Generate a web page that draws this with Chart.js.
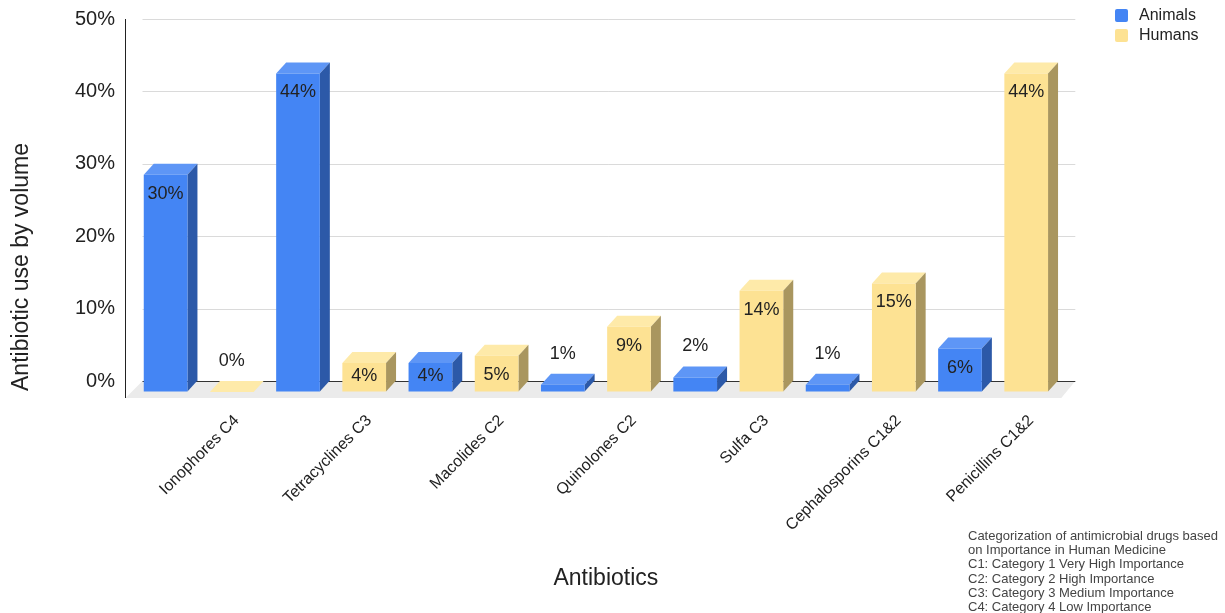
<!DOCTYPE html>
<html>
<head>
<meta charset="utf-8">
<script src="https://cdn.jsdelivr.net/npm/chart.js@4.4.1/dist/chart.umd.min.js"></script>
<style>
  body { margin: 0; background: #fff; }
  #wrap { position: relative; width: 1225px; height: 613px; }
  #note {
    position: absolute; left: 968px; top: 529px;
    font: 13px "Liberation Sans", Arial, sans-serif; line-height: 14.2px; color: #444;
    white-space: nowrap;
  }
</style>
</head>
<body>
<div id="wrap">
  <canvas id="bookChart"></canvas>
  <div id="note">
    Categorization of antimicrobial drugs based<br>
    on Importance in Human Medicine<br>
    C1: Category 1 Very High Importance<br>
    C2: Category 2 High Importance<br>
    C3: Category 3 Medium Importance<br>
    C4: Category 4 Low Importance
  </div>
</div>
<script>
const categories = ['Ionophores C4', 'Tetracyclines C3', 'Macolides C2', 'Quinolones C2', 'Sulfa C3', 'Cephalosporins C1&2', 'Penicillins C1&2'];
const animals = [30, 44, 4, 1, 2, 1, 6];
const humans = [0, 4, 5, 9, 14, 15, 44];
const yTicks = [0, 10, 20, 30, 40, 50];

const FONT = '"Liberation Sans", Arial, sans-serif';
const DX = 10, DY = 11; // 3D depth

// front, top, side colours per series
const faces = [
  { front: '#4485f4', top: '#5e96f6', side: '#2c59a8' },
  { front: '#fde293', top: '#feeaa9', side: '#a9965f' }
];

const bars3d = {
  id: 'bars3d',
  beforeDatasetsDraw(chart) {
    const ctx = chart.ctx;
    const area = chart.chartArea;
    const y = chart.scales.y;
    const right = area.right + 6;
    ctx.save();
    // floor
    ctx.fillStyle = '#ebebeb';
    ctx.beginPath();
    ctx.moveTo(area.left - 17, area.bottom + 17);
    ctx.lineTo(area.left, area.bottom);
    ctx.lineTo(right, area.bottom);
    ctx.lineTo(right - 14, area.bottom + 17);
    ctx.closePath();
    ctx.fill();
    // grid lines
    yTicks.forEach(t => {
      const py = Math.round(y.getPixelForValue(t)) + 0.5;
      ctx.strokeStyle = t === 0 ? '#333' : '#dadada';
      ctx.lineWidth = 1;
      ctx.beginPath();
      ctx.moveTo(area.left, py);
      ctx.lineTo(right, py);
      ctx.stroke();
    });
    // axis line
    ctx.strokeStyle = '#222';
    ctx.beginPath();
    ctx.moveTo(125.5, area.top);
    ctx.lineTo(125.5, area.bottom + 17);
    ctx.stroke();
    // y axis title
    ctx.save();
    ctx.translate(22, 267);
    ctx.rotate(-Math.PI / 2);
    ctx.font = '23px ' + FONT;
    ctx.fillStyle = '#222';
    ctx.textAlign = 'center';
    ctx.textBaseline = 'middle';
    ctx.fillText('Antibiotic use by volume', 0, 0);
    ctx.restore();
    // top and side faces
    chart.data.datasets.forEach((ds, di) => {
      chart.getDatasetMeta(di).data.forEach(bar => {
        const p = bar.getProps(['x', 'y', 'base', 'width'], true);
        const l = p.x - p.width / 2, r = p.x + p.width / 2;
        ctx.fillStyle = faces[di].top;
        ctx.beginPath();
        ctx.moveTo(l - DX, p.y + DY);
        ctx.lineTo(l, p.y);
        ctx.lineTo(r, p.y);
        ctx.lineTo(r - DX, p.y + DY);
        ctx.closePath();
        ctx.fill();
        ctx.fillStyle = faces[di].side;
        ctx.beginPath();
        ctx.moveTo(r - DX, p.y + DY);
        ctx.lineTo(r, p.y);
        ctx.lineTo(r, p.base);
        ctx.lineTo(r - DX, p.base + DY);
        ctx.closePath();
        ctx.fill();
      });
    });
    ctx.restore();
  },
  beforeDatasetDraw(chart) {
    chart.ctx.save();
    chart.ctx.translate(-DX, DY);
  },
  afterDatasetDraw(chart) {
    chart.ctx.restore();
  },
  afterDatasetsDraw(chart) {
    const ctx = chart.ctx;
    ctx.save();
    ctx.font = '18px ' + FONT;
    ctx.fillStyle = '#222';
    ctx.textAlign = 'center';
    ctx.textBaseline = 'middle';
    chart.data.datasets.forEach((ds, di) => {
      chart.getDatasetMeta(di).data.forEach((bar, i) => {
        const p = bar.getProps(['x', 'y', 'base'], true);
        const v = ds.data[i];
        const frontTop = p.y + DY, frontBottom = p.base + DY;
        const ty = v >= 3 ? Math.min(frontTop + 19, frontBottom - 15) : frontTop - 31;
        ctx.fillText(v + '%', p.x - DX, ty);
      });
    });
    // rotated category labels
    const x = chart.scales.x;
    ctx.font = '16px ' + FONT;
    ctx.textAlign = 'right';
    categories.forEach((c, i) => {
      ctx.save();
      ctx.translate(x.getPixelForValue(i) + 28, 418);
      ctx.rotate(-Math.PI / 4);
      ctx.fillText(c, 0, 0);
      ctx.restore();
    });
    // legend
    ctx.textAlign = 'left';
    ctx.font = '16px ' + FONT;
    chart.data.datasets.forEach((ds, di) => {
      const ly = 16 + di * 20;
      ctx.fillStyle = faces[di].front;
      ctx.beginPath();
      ctx.roundRect(1115, ly - 7, 13, 13, 2);
      ctx.fill();
      ctx.fillStyle = '#222';
      ctx.fillText(ds.label, 1139, ly);
    });
    ctx.restore();
  }
};

new Chart(document.getElementById('bookChart'), {
  type: 'bar',
  data: {
    labels: categories,
    datasets: [
      { label: 'Animals', data: animals, backgroundColor: faces[0].front, clip: false },
      { label: 'Humans', data: humans, backgroundColor: faces[1].front, clip: false }
    ]
  },
  options: {
    responsive: true,
    maintainAspectRatio: false,
    animation: false,
    layout: { padding: { top: 19, right: 155.7, bottom: 0, left: 0 } },
    datasets: { bar: { categoryPercentage: 1.0, barPercentage: 0.66 } },
    plugins: { legend: { display: false }, tooltip: { enabled: false } },
    scales: {
      x: {
        ticks: { display: false },
        grid: { display: false, drawTicks: false },
        border: { display: false },
        title: { display: true, text: 'Antibiotics', color: '#222', font: { size: 23, family: FONT }, padding: { top: 0, bottom: 21 } },
        afterFit(scale) { scale.height = 232; }
      },
      y: {
        min: 0,
        max: 50,
        ticks: { stepSize: 10, padding: 5, color: '#222', font: { size: 20, family: FONT }, callback: v => v + '%' },
        grid: { display: true, color: 'transparent', drawTicks: true, tickLength: 22.5 },
        border: { display: false },
        afterFit(scale) { scale.width = 142.5; }
      }
    }
  },
  plugins: [bars3d]
});
</script>
</body>
</html>
